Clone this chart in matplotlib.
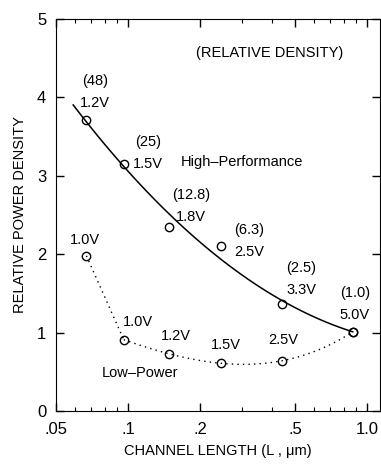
import numpy as np
import matplotlib
matplotlib.use("Agg")
import matplotlib.pyplot as plt
from matplotlib.ticker import FixedLocator, NullFormatter

plt.rcParams['font.family'] = ['Liberation Sans', 'DejaVu Sans']

# channel length (um) for each generation
length = [0.067, 0.096, 0.148, 0.246, 0.44, 0.87]

# high-performance branch
hp_density = [3.71, 3.15, 2.35, 2.10, 1.36, 1.01]
hp_volts = ["1.2V", "1.5V", "1.8V", "2.5V", "3.3V", "5.0V"]
hp_rel = ["(48)", "(25)", "(12.8)", "(6.3)", "(2.5)", "(1.0)"]
# label anchor (x, y of voltage line)
hp_label_x = [0.0726, 0.121, 0.184, 0.321, 0.531, 0.889]
hp_label_y = [3.93, 3.15, 2.47, 2.03, 1.54, 1.22]

# low-power branch
lp_density = [1.98, 0.91, 0.73, 0.61, 0.64, 1.01]
lp_volts = ["1.0V", "1.0V", "1.2V", "1.5V", "2.5V"]
lp_label_x = [0.066, 0.110, 0.158, 0.257, 0.447]
lp_label_y = [2.18, 1.14, 0.96, 0.84, 0.91]

x_ticks = [0.05, 0.1, 0.2, 0.5, 1.0]
x_ticklabels = [".05", ".1", ".2", ".5", "1.0"]

fig = plt.figure(figsize=(3.81, 4.66), dpi=100)
ax = fig.add_axes([0.147, 0.118, 0.85, 0.841])
ax.set_xscale('log')
ax.set_xlim(0.05, 1.13)
ax.set_ylim(0, 5)

# solid trend line for the high-performance points (quadratic fit in log x)
lx = np.log10(length)
coef = np.polyfit(lx, hp_density, 2)
xs = np.linspace(np.log10(0.059), lx[-1], 100)
ax.plot(10 ** xs, np.polyval(coef, xs), color='black', lw=1.1)

# dotted trend line for low-power: steep drop then smooth fit
dot = (0, (1, 3))
ax.plot(length[:2], lp_density[:2], color='black', ls=dot, lw=1.0)
coef2 = np.polyfit(lx[1:], lp_density[1:], 3)
xs2 = np.linspace(lx[1], lx[-1], 100)
ax.plot(10 ** xs2, np.polyval(coef2, xs2), color='black', ls=dot, lw=1.0)

ax.plot(length, hp_density, 'o', mfc='none', mec='black', ms=6, mew=1.0)
ax.plot(length, lp_density, 'o', mfc='none', mec='black', ms=6, mew=1.0)

fs = 10.5
for i in range(len(length)):
    ax.annotate(hp_volts[i], (hp_label_x[i], hp_label_y[i]), ha='center', va='center', fontsize=fs)
    ax.annotate(hp_rel[i], (hp_label_x[i], hp_label_y[i]), xytext=(0, 16),
                textcoords='offset points', ha='center', va='center', fontsize=fs)

for i in range(len(lp_volts)):
    ax.text(lp_label_x[i], lp_label_y[i], lp_volts[i], ha='center', va='center', fontsize=fs)

ax.text(0.166, 3.18, "High\u2013Performance", fontsize=fs, va='center', ha='left')
ax.text(0.078, 0.48, "Low\u2013Power", fontsize=fs, va='center', ha='left')
ax.text(0.66, 0.913, "(RELATIVE DENSITY)", transform=ax.transAxes, fontsize=fs,
        ha='center', va='center')

ax.xaxis.set_major_locator(FixedLocator(x_ticks))
ax.set_xticklabels(x_ticklabels)
ax.xaxis.set_minor_formatter(NullFormatter())
ax.set_yticks([0, 1, 2, 3, 4, 5])
ax.tick_params(which='both', direction='in', top=True, right=True, labelsize=12)
ax.tick_params(which='major', length=6, width=1.0)
ax.tick_params(which='minor', length=3, width=0.8)
ax.tick_params(axis='x', pad=8)
ax.tick_params(axis='y', pad=7)

ax.set_xlabel("CHANNEL LENGTH (L , \u03bcm)", fontsize=10.5, labelpad=5)
ax.set_ylabel("RELATIVE POWER DENSITY", fontsize=10.5, labelpad=7)

fig.savefig("out.png", dpi=100)
